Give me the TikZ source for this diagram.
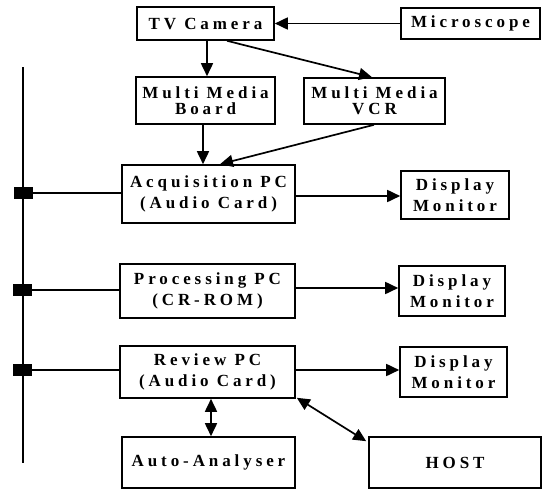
\documentclass[tikz,border=0pt]{standalone}
\usepackage{fontspec}
\setmainfont{Liberation Serif}[LetterSpace=23]
\usetikzlibrary{arrows.meta}
\tikzset{
  box/.style={draw, line width=1.6pt, inner sep=0pt, align=center,
    font=\fontsize{17}{21}\selectfont\bfseries},
  tip/.tip={Triangle[length=13pt,width=12pt]},
  arr/.style={line width=1.7pt, -tip},
  darr/.style={line width=1.7pt, tip-tip},
  tap/.style={fill=black, draw=none, minimum width=19pt, minimum height=12pt, inner sep=0pt},
  link/.style={line width=1.1pt},
  bus/.style={line width=1.6pt}
}
\begin{document}
\begin{tikzpicture}[x=1pt,y=-1pt]
\useasboundingbox (0,0) rectangle (544,490);
% boxes
\node[box, minimum width=137pt, minimum height=33pt] (tv) at (205.5,23.5) {TV Camera};
\node[box, minimum width=139pt, minimum height=31pt] (mic) at (470.5,23.5) {Microscope};
\node[box, minimum width=139pt, minimum height=47pt] (mmb) at (205.5,100.5) {Multi Media\\[-5pt]Board};
\node[box, minimum width=141pt, minimum height=46pt] (vcr) at (374.5,101) {Multi Media\\[-5pt]VCR};
\node[box, minimum width=173pt, minimum height=58pt] (acq) at (208.5,194) {Acquisition PC\\(Audio Card)};
\node[box, minimum width=108pt, minimum height=48pt] (d1) at (455,195) {Display\\Monitor};
\node[box, minimum width=175pt, minimum height=54pt] (proc) at (207.5,291) {Processing PC\\(CR-ROM)};
\node[box, minimum width=106pt, minimum height=50pt] (d2) at (452,291) {Display\\Monitor};
\node[box, minimum width=175pt, minimum height=52pt] (rev) at (207.5,372) {Review PC\\(Audio Card)};
\node[box, minimum width=107pt, minimum height=50pt] (d3) at (453.5,372) {Display\\Monitor};
\node[box, minimum width=173pt, minimum height=51pt] (auto) at (208.5,462.5) {Auto-Analyser};
\node[box, minimum width=172pt, minimum height=51pt] (host) at (455,462.5) {HOST};
% bus
\coordinate (busTop) at (23,67);
\coordinate (busBot) at (23,463);
\draw[bus] (busTop) -- (busBot);
\node[tap] (t1) at (23,193) {};
\node[tap] (t2) at (22,290) {};
\node[tap] (t3) at (22,370) {};
\draw[link] (t1.east) -- (t1.east -| acq.west);
\draw[link] (t2.east) -- (t2.east -| proc.west);
\draw[link] (t3.east) -- (t3.east -| rev.west);
% arrows
\draw[arr] (mic.west) -- (tv.east);
\draw[arr] ([xshift=1.5pt]tv.south) -- ([xshift=1.5pt]tv.south |- mmb.north);
\draw[arr] ([xshift=21.5pt]tv.south) -- ([xshift=-2.5pt]vcr.north);
\draw[arr] ([xshift=-2.5pt]mmb.south) -- ([xshift=-2.5pt]mmb.south |- acq.north);
\draw[arr] ([xshift=-0.5pt]vcr.south) -- ([xshift=11.5pt]acq.north);
\draw[arr] ([yshift=-2pt]acq.east) -- ([yshift=-2pt]acq.east -| d1.west);
\draw[arr] ([yshift=3pt]proc.east) -- ([yshift=3pt]proc.east -| d2.west);
\draw[arr] ([yshift=2pt]rev.east) -- ([yshift=2pt]rev.east -| d3.west);
\draw[darr] ([xshift=3.5pt]rev.south) -- ([xshift=3.5pt]rev.south |- auto.north);
\draw[darr] ([shift={(1,-1)}]rev.south east) -- ([shift={(-2,5)}]host.north west);
\end{tikzpicture}
\end{document}
